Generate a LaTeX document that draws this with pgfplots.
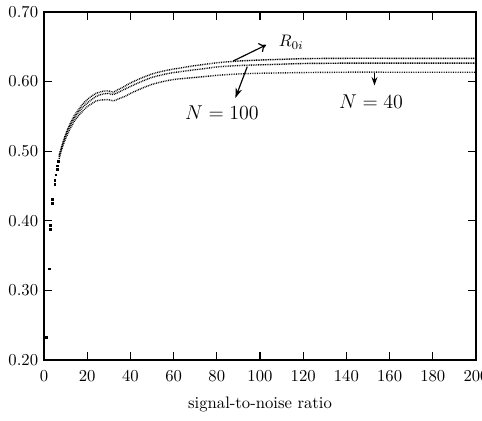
\documentclass[border=0pt]{standalone}
\usepackage{pgfplots}
\pgfplotsset{compat=1.18}
\usetikzlibrary{arrows.meta}

% Isolated points at very low signal-to-noise ratio
\pgfplotstableread{
x y
1.1 0.233
2.3 0.331
3.1 0.388
3.1 0.394
4.0 0.425
4.0 0.431
5.0 0.452
5.0 0.458
5.5 0.466
6.0 0.474
6.0 0.479
6.5 0.485
}\lowsnr

% Rate curves: R_{0i} and the two block lengths N = 100, N = 40
\pgfplotstableread{
x y
7 0.494
8 0.505
9 0.515
10 0.524
11 0.532
12 0.539
13 0.545
14 0.551
16 0.560
18 0.568
20 0.574
22 0.579
24 0.583
26 0.585
28 0.5865
30 0.5865
31 0.5855
32 0.585
33 0.586
34 0.588
36 0.591
38 0.5945
40 0.598
45 0.605
50 0.611
55 0.615
60 0.618
70 0.623
80 0.627
90 0.6295
100 0.631
110 0.632
120 0.633
140 0.6335
160 0.6335
180 0.6335
200 0.6335
}\topcurve

\pgfplotstableread{
x y
7 0.492
8 0.503
9 0.513
10 0.522
11 0.530
12 0.536
13 0.542
14 0.547
16 0.556
18 0.5635
20 0.569
22 0.574
24 0.5785
26 0.581
28 0.5825
30 0.583
31 0.582
32 0.5815
33 0.5825
34 0.584
36 0.587
38 0.590
40 0.593
45 0.600
50 0.606
55 0.610
60 0.613
70 0.617
80 0.621
90 0.623
100 0.624
110 0.625
120 0.626
140 0.6265
160 0.6265
180 0.6265
200 0.6265
}\midcurve

\pgfplotstableread{
x y
7 0.489
8 0.501
9 0.510
10 0.518
11 0.525
12 0.532
13 0.537
14 0.543
16 0.551
18 0.558
20 0.564
22 0.568
24 0.572
26 0.5735
28 0.574
30 0.574
31 0.573
32 0.5725
33 0.573
34 0.5745
36 0.577
38 0.5795
40 0.583
45 0.590
50 0.596
55 0.600
60 0.603
70 0.606
80 0.609
90 0.611
100 0.612
110 0.6125
120 0.613
140 0.6135
160 0.6135
180 0.6135
200 0.6135
}\botcurve

\begin{document}
\begin{tikzpicture}
\begin{axis}[
  at={(0,0)}, anchor=south west,
  scale only axis,
  width=259.2pt, height=208.8pt,
  xmin=0, xmax=200, ymin=0.20, ymax=0.70,
  xtick={0,20,...,200},
  ytick={0.2,0.3,0.4,0.5,0.6,0.7},
  tick align=inside,
  major tick length=5pt,
  axis line style={line width=0.7pt},
  every tick/.style={line width=0.7pt, black},
  yticklabel style={/pgf/number format/.cd, fixed, fixed zerofill, precision=2},
  xticklabel style={anchor=base, yshift=-13pt},
  xlabel={signal-to-noise ratio},
  xlabel style={at={(axis description cs:0.5,0)}, anchor=base, yshift=-28.8pt},
  clip=false,
  curve/.style={black, line width=0.85pt, line cap=butt,
    dash pattern=on 0.5pt off 0.55pt, smooth, tension=0.4},
]
\addplot[only marks, mark=square*, mark size=0.55pt,
  mark options={draw=none, fill=black}] table {\lowsnr};
\addplot[curve] table {\topcurve};
\addplot[curve] table {\midcurve};
\addplot[curve] table {\botcurve};

% labels and pointers
\draw[-{To[length=4pt,width=6pt]}, line width=0.7pt] (axis cs:87.6,0.6296) -- (axis cs:102.8,0.6526);
\node at (axis cs:114.5,0.6565) {$R_{0i}$};
\draw[-{Stealth[length=6pt,width=4pt]}, line width=0.7pt] (axis cs:94.1,0.6214) -- (axis cs:88.6,0.5765);
\node at (axis cs:82.4,0.555) {\large $N=100$};
\draw[-{Stealth[length=5pt,width=3.5pt]}, line width=0.7pt] (axis cs:153.0,0.6125) -- (axis cs:153.0,0.5945);
\node at (axis cs:151.4,0.5714) {\large $N=40$};
\end{axis}
\pgfresetboundingbox
\path[use as bounding box] (-26.4pt,-36pt) rectangle (262.8pt,216pt);
\end{tikzpicture}
\end{document}
